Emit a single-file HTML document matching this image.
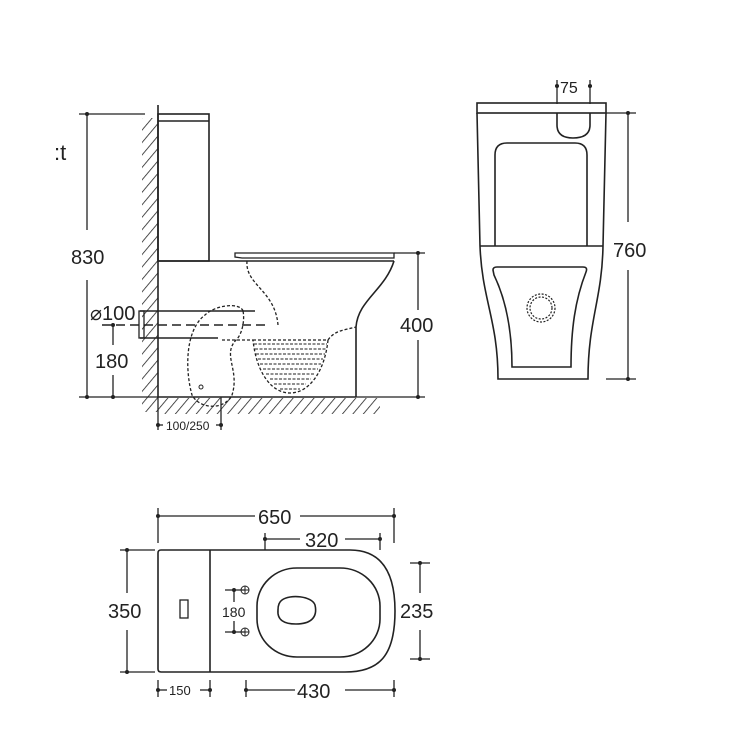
<!DOCTYPE html>
<html><head><style>
html,body{margin:0;padding:0;background:#fff;}
svg{display:block;}
text{font-family:"Liberation Sans",Arial,sans-serif;fill:#222;}
</style></head><body>
<svg width="750" height="750" viewBox="0 0 750 750" xmlns="http://www.w3.org/2000/svg">
<defs>
<pattern id="h" width="8" height="8" patternUnits="userSpaceOnUse" patternTransform="rotate(40)">
<line x1="0" y1="0" x2="0" y2="8" stroke="#222" stroke-width="1.6"/>
</pattern>
</defs>
<g fill="none" stroke="#222" stroke-width="1.6">
<!-- SIDE VIEW -->
<rect x="142" y="118" width="16" height="294" fill="url(#h)" stroke="none"/>
<rect x="158" y="398" width="222" height="16" fill="url(#h)" stroke="none"/>
<line x1="158" y1="105" x2="158" y2="397"/>
<line x1="158" y1="397" x2="356" y2="397"/>
<rect x="158" y="114" width="51" height="147"/>
<line x1="158" y1="121" x2="209" y2="121"/>
<line x1="158" y1="261" x2="394" y2="261"/>
<path d="M235 253 L394 253 L394 258 L242 258 L235 257 Z" stroke-width="1.3"/>
<path d="M394 261 C385 290 358 300 356 327 L356 397"/>
<line x1="140" y1="311" x2="255" y2="311"/>
<line x1="140" y1="338" x2="218" y2="338"/>
<rect x="139" y="311" width="5" height="27" stroke-width="1.3"/>
<line x1="102" y1="325" x2="270" y2="325" stroke-dasharray="9,5"/>
<g stroke-dasharray="3,2" stroke-width="1.3">
<path d="M247 261 C245 285 275 290 278 325"/>
<path d="M222 340 L253 340 M328 340 C335 330 345 330 356 327"/>
<path d="M243 311 C240 302 215 305 205 315 C185 330 185 370 192 395 C200 410 225 410 232 395 C240 370 222 355 236 340 C242 335 245 320 243 311"/>
<path d="M253 340 L328 340 C325 370 310 393 290 393 C270 393 256 370 253 340"/>
</g>
<g stroke-dasharray="3,1.5" stroke-width="1">
<line x1="254" y1="344" x2="327" y2="344"/><line x1="255" y1="349" x2="326" y2="349"/>
<line x1="256" y1="354" x2="325" y2="354"/><line x1="258" y1="359" x2="323" y2="359"/>
<line x1="260" y1="364" x2="321" y2="364"/><line x1="263" y1="369" x2="318" y2="369"/>
<line x1="266" y1="374" x2="315" y2="374"/><line x1="270" y1="379" x2="311" y2="379"/>
<line x1="274" y1="384" x2="306" y2="384"/><line x1="280" y1="389" x2="300" y2="389"/>
</g>
<circle cx="201" cy="387" r="2" stroke-width="1"/>
<g stroke-width="1.3">
<line x1="79" y1="114" x2="145" y2="114"/>
<line x1="87" y1="114" x2="87" y2="230"/><line x1="87" y1="280" x2="87" y2="397"/>
<line x1="79" y1="397" x2="158" y2="397"/>
<line x1="113" y1="325" x2="113" y2="345"/><line x1="113" y1="375" x2="113" y2="397"/>
<line x1="394" y1="253" x2="425" y2="253"/><line x1="356" y1="397" x2="425" y2="397"/>
<line x1="418" y1="253" x2="418" y2="310"/><line x1="418" y1="340" x2="418" y2="397"/>
<line x1="158" y1="397" x2="158" y2="430"/><line x1="221" y1="397" x2="221" y2="430"/>
<line x1="158" y1="425" x2="163" y2="425"/><line x1="216" y1="425" x2="221" y2="425"/>
<line x1="557" y1="80" x2="557" y2="104"/><line x1="590" y1="80" x2="590" y2="104"/>
<line x1="555" y1="86" x2="559" y2="86"/><line x1="588" y1="86" x2="592" y2="86"/>
<line x1="606" y1="113" x2="636" y2="113"/><line x1="606" y1="379" x2="636" y2="379"/>
<line x1="628" y1="113" x2="628" y2="222"/><line x1="628" y1="270" x2="628" y2="379"/>
<line x1="158" y1="508" x2="158" y2="543"/><line x1="394" y1="508" x2="394" y2="543"/>
<line x1="158" y1="516" x2="255" y2="516"/><line x1="300" y1="516" x2="394" y2="516"/>
<line x1="265" y1="533" x2="265" y2="550"/><line x1="380" y1="533" x2="380" y2="550"/>
<line x1="265" y1="539" x2="300" y2="539"/><line x1="345" y1="539" x2="380" y2="539"/>
<line x1="120" y1="550" x2="155" y2="550"/><line x1="120" y1="672" x2="155" y2="672"/>
<line x1="127" y1="550" x2="127" y2="593"/><line x1="127" y1="630" x2="127" y2="672"/>
<line x1="410" y1="563" x2="430" y2="563"/><line x1="410" y1="659" x2="430" y2="659"/>
<line x1="420" y1="563" x2="420" y2="593"/><line x1="420" y1="630" x2="420" y2="659"/>
<line x1="225" y1="590" x2="245" y2="590"/><line x1="225" y1="632" x2="245" y2="632"/>
<line x1="234" y1="590" x2="234" y2="602"/><line x1="234" y1="621" x2="234" y2="632"/>
<line x1="158" y1="680" x2="158" y2="697"/><line x1="210" y1="680" x2="210" y2="697"/>
<line x1="158" y1="690" x2="167" y2="690"/><line x1="200" y1="690" x2="210" y2="690"/>
<line x1="246" y1="680" x2="246" y2="697"/><line x1="394" y1="680" x2="394" y2="697"/>
<line x1="246" y1="690" x2="295" y2="690"/><line x1="345" y1="690" x2="394" y2="690"/>
</g>
<g fill="#222" stroke="none">
<circle cx="87" cy="114" r="2"/><circle cx="87" cy="397" r="2"/>
<circle cx="113" cy="325" r="2"/><circle cx="113" cy="397" r="2"/>
<circle cx="418" cy="253" r="2"/><circle cx="418" cy="397" r="2"/>
<circle cx="158" cy="425" r="2"/><circle cx="221" cy="425" r="2"/>
<circle cx="557" cy="86" r="2"/><circle cx="590" cy="86" r="2"/>
<circle cx="628" cy="113" r="2"/><circle cx="628" cy="379" r="2"/>
<circle cx="158" cy="516" r="2"/><circle cx="394" cy="516" r="2"/>
<circle cx="265" cy="539" r="2"/><circle cx="380" cy="539" r="2"/>
<circle cx="127" cy="550" r="2"/><circle cx="127" cy="672" r="2"/>
<circle cx="420" cy="563" r="2"/><circle cx="420" cy="659" r="2"/>
<circle cx="234" cy="590" r="2"/><circle cx="234" cy="632" r="2"/>
<circle cx="158" cy="690" r="2"/><circle cx="210" cy="690" r="2"/>
<circle cx="246" cy="690" r="2"/><circle cx="394" cy="690" r="2"/>
</g>
<!-- FRONT VIEW -->
<rect x="477" y="103" width="129" height="10"/>
<path d="M477 113 L480 246 M606 113 L603 246"/>
<line x1="480" y1="246" x2="603" y2="246"/>
<path d="M495 246 L495 155 Q495 143 507 143 L575 143 Q587 143 587 155 L587 246"/>
<path d="M557 113 L557 125 Q557 138 573 138 Q590 138 590 125 L590 113"/>
<path d="M480 246 C482 300 498 320 498 379 L588 379 C588 320 602 300 603 246"/>
<path d="M493 270 Q493 267 497 267 L583 267 Q588 267 586 272 C575 300 571 330 571 367 L512 367 C512 330 506 300 494 275 Z"/>
<circle cx="541" cy="308" r="14" stroke-dasharray="2,1.5" stroke-width="1.2"/>
<circle cx="541" cy="308" r="11" stroke-dasharray="2,1.5" stroke-width="1.2"/>
<!-- TOP VIEW -->
<path d="M161 550 L350 550 C380 550 395 570 395 611 C395 655 380 672 345 672 L161 672 Q158 672 158 669 L158 553 Q158 550 161 550 Z"/>
<line x1="210" y1="550" x2="210" y2="672"/>
<rect x="180" y="600" width="8" height="18" stroke-width="1.3"/>
<rect x="257" y="568" width="123" height="89" rx="40" ry="38"/>
<path d="M282 600 C290 594 312 596 315 605 C318 618 310 624 296 624 C284 624 277 620 278 610 C278 605 279 602 282 600 Z"/>
<g stroke-width="1"><circle cx="245" cy="590" r="4"/><circle cx="245" cy="632" r="4"/>
<path d="M241 590 H249 M245 586 V594 M241 632 H249 M245 628 V636"/></g>
</g>
<g font-size="20">
<text x="54" y="160" font-size="22">:t</text>
<text x="71" y="264">830</text>
<text x="90" y="320">⌀100</text>
<text x="95" y="368">180</text>
<text x="400" y="332">400</text>
<text x="560" y="93" font-size="16">75</text>
<text x="613" y="257">760</text>
<text x="258" y="524">650</text>
<text x="305" y="547">320</text>
<text x="108" y="618">350</text>
<text x="400" y="618">235</text>
<text x="297" y="698">430</text>
<text x="222" y="617" font-size="14">180</text>
<text x="169" y="695" font-size="13">150</text>
<text x="166" y="430" font-size="12">100/250</text>
</g>
</svg>
</body></html>
